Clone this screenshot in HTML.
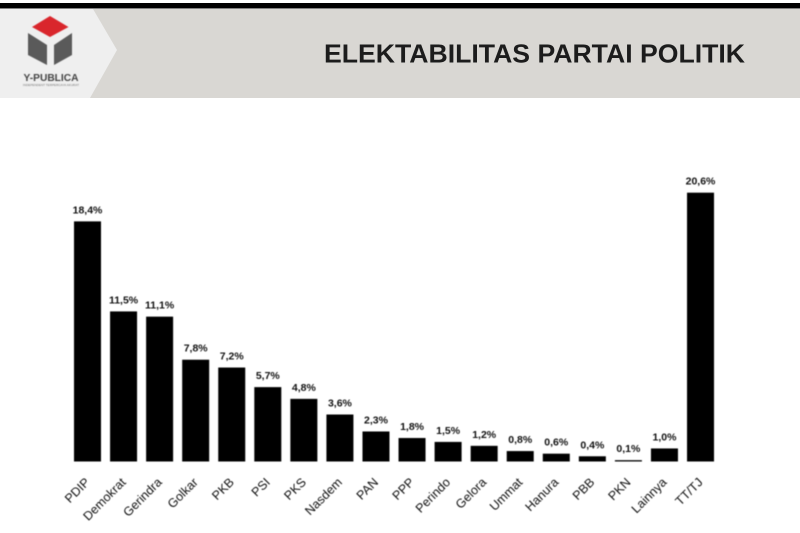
<!DOCTYPE html>
<html lang="id">
<head>
<meta charset="utf-8">
<title>Elektabilitas Partai Politik</title>
<style>
  html, body { margin: 0; padding: 0; background: #fff; }
  body { width: 800px; height: 533px; overflow: hidden; }
  svg { display: block; }
  .soft { filter: blur(0.4px); }
  .val { font: bold 10.5px "Liberation Sans", sans-serif; fill: #111; text-anchor: middle; }
  .cat { font: 12.5px "Liberation Sans", sans-serif; fill: #111; text-anchor: end; }
</style>
</head>
<body>
<svg id="chart" xmlns="http://www.w3.org/2000/svg" width="800" height="533" viewBox="0 0 800 533">
  <rect x="0" y="0" width="800" height="533" fill="#ffffff"/>
  <rect x="0" y="3" width="800" height="5.5" fill="#000000"/>
  <rect x="0" y="9" width="800" height="89" fill="#d9d7d3"/>
  <polygon points="0,9 93,9 117,50 90,98 0,98" fill="#efefef"/>
  <g class="soft">
    <polygon points="50,16 68.5,27 50,37 32,27" fill="#d9262c"/>
    <polygon points="28,33 47,45 47,65 28,55" fill="#5a5a5a"/>
    <polygon points="72,33 54,45 54,65 72,55" fill="#5a5a5a"/>
    <text x="51" y="81" text-anchor="middle" font-family="Liberation Sans, sans-serif" font-weight="bold" font-size="10" fill="#444" textLength="55" lengthAdjust="spacingAndGlyphs">Y-PUBLICA</text>
    <text x="51" y="86" text-anchor="middle" font-family="Liberation Sans, sans-serif" font-size="3" fill="#777" textLength="56" lengthAdjust="spacingAndGlyphs">INDEPENDENT TERPERCAYA AKURAT</text>
  </g>
  <text x="324" y="62.5" font-family="Liberation Sans, sans-serif" font-weight="bold" font-size="26" fill="#1c1c1c" textLength="421" lengthAdjust="spacingAndGlyphs">ELEKTABILITAS PARTAI POLITIK</text>
  <g id="plot" class="soft"></g>
</svg>
<script>
const categories = ["PDIP","Demokrat","Gerindra","Golkar","PKB","PSI","PKS","Nasdem","PAN","PPP","Perindo","Gelora","Ummat","Hanura","PBB","PKN","Lainnya","TT/TJ"];
const seriesValues = [18.4,11.5,11.1,7.8,7.2,5.7,4.8,3.6,2.3,1.8,1.5,1.2,0.8,0.6,0.4,0.1,1.0,20.6];
const valueLabels = ["18,4%","11,5%","11,1%","7,8%","7,2%","5,7%","4,8%","3,6%","2,3%","1,8%","1,5%","1,2%","0,8%","0,6%","0,4%","0,1%","1,0%","20,6%"];

const NS = "http://www.w3.org/2000/svg";
const plot = document.getElementById("plot");
const baselineY = 461.5;
const pxPerUnit = 13.05;
const firstBarLeft = 74;
const barPitch = 36.06;
const barWidth = 27;

function yScale(v) { return baselineY - v * pxPerUnit; }
function xScale(i) { return firstBarLeft + i * barPitch; }

categories.forEach(function (cat, i) {
  const v = seriesValues[i];
  const slug = cat.toLowerCase().replace(/[^a-z0-9]+/g, "-");

  const bar = document.createElementNS(NS, "rect");
  bar.setAttribute("x", xScale(i));
  bar.setAttribute("y", yScale(v));
  bar.setAttribute("width", barWidth);
  bar.setAttribute("height", baselineY - yScale(v));
  bar.setAttribute("fill", "#000000");
  
  
  plot.appendChild(bar);

  const val = document.createElementNS(NS, "text");
  val.setAttribute("class", "val");
  val.setAttribute("x", xScale(i) + barWidth / 2);
  val.setAttribute("y", yScale(v) - 8);
  val.textContent = valueLabels[i];
  
  
  plot.appendChild(val);

  const lx = xScale(i) + barWidth / 2 + 3;
  const ly = 483;
  const label = document.createElementNS(NS, "text");
  label.setAttribute("class", "cat");
  label.setAttribute("x", lx);
  label.setAttribute("y", ly);
  label.setAttribute("transform", "rotate(-45 " + lx + " " + ly + ")");
  label.textContent = cat;
  
  
  plot.appendChild(label);
});
</script>
</body>
</html>
